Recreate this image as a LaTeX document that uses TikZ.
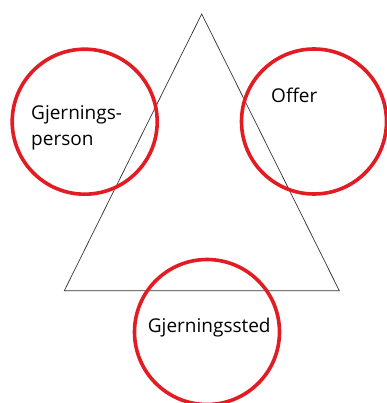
\documentclass[tikz,border=0pt]{standalone}
\usepackage{fontspec}
\setmainfont{Open Sans}
\usetikzlibrary{positioning}
\definecolor{RingRed}{RGB}{227,27,35}
\definecolor{EdgeGrey}{RGB}{50,50,50}
\tikzset{
  ring/.style={circle,draw=RingRed,line width=3.6pt,minimum size=145pt,
    inner sep=0pt},
  edge/.style={draw=EdgeGrey,line width=0.7pt,line join=miter},
  word/.style={inner sep=0pt,font=\fontsize{19}{26}\selectfont,align=left}
}
\begin{document}
\begin{tikzpicture}[x=1pt,y=-1pt]
  \useasboundingbox (0,0) rectangle (386,403);
  % triangle corners
  \coordinate (top) at (201.7,14);
  \coordinate (left) at (64.3,290.7);
  \coordinate (right) at (339.3,290.7);
  \draw[edge] (top) -- (left) -- (right) -- cycle;

  \node[ring] (perp) at (84.7,121.7) {};
  \node[ring] (victim) at (314,121.5) {};
  \node[ring] (scene) at (207,332) {};

  % base anchor of a two-line node sits on the last line
  \node[word,anchor=base west] (perptext) at (31,146) {Gjernings-\\person};
  \node[word,anchor=base west] (victimtext) at (271,102.7) {Offer};
  \node[word,anchor=base west] (scenetext) at (147.7,332.7) {Gjerningssted};
\end{tikzpicture}
\end{document}
